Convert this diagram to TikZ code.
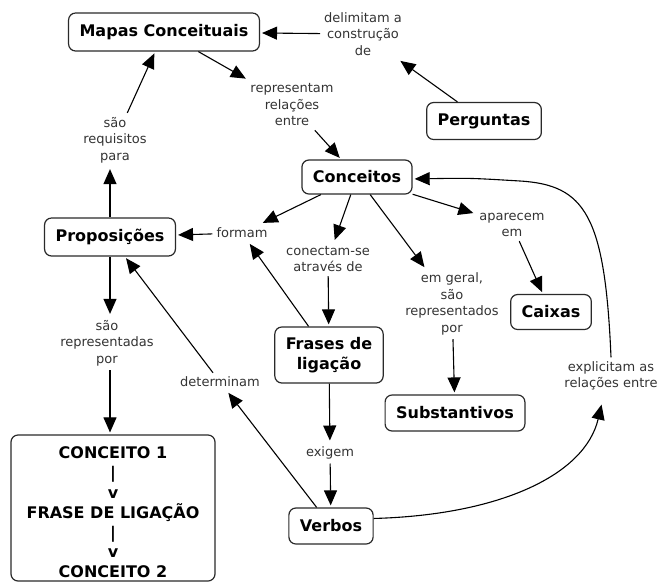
\documentclass[tikz,border=0pt]{standalone}
\usepackage{fontspec}
\setmainfont{DejaVu Sans}
\usetikzlibrary{arrows.meta,calc}
\definecolor{txtgray}{HTML}{333333}
\definecolor{linegray}{HTML}{2A2A2A}
\begin{document}
\begin{tikzpicture}[x=1pt,y=-1pt,
  concept/.style={draw=linegray, line width=1.2pt, rounded corners=7pt,
    font=\fontsize{16}{19.8}\selectfont\bfseries, inner xsep=11pt, inner ysep=2pt,
    minimum height=36pt, align=center, text=black},
  lbl/.style={font=\fontsize{13}{16.5}\selectfont, text=txtgray, align=center, inner sep=4pt},
  arr/.style={-{Triangle[length=15pt,width=13pt]}, line width=1.1pt, draw=black, shorten >=2pt}]
\useasboundingbox (0,0) rectangle (658,582);

% concept boxes
\node[concept, minimum height=38pt] (mapas) at (164,32) {Mapas Conceituais};
\node[concept, minimum height=37pt] (perg) at (484,121) {Perguntas};
\node[concept, minimum height=34pt] (conc) at (357,177) {Conceitos};
\node[concept, minimum height=38pt] (prop) at (110,237) {Proposições};
\node[concept, minimum height=35pt] (caixas) at (551,312) {Caixas};
\node[concept] (subst) at (455,413) {Substantivos};
\node[concept, minimum height=56pt] (frases) at (329,355) {Frases de\\ligação};
\node[concept] (verbos) at (331,526) {Verbos};
\node[concept, minimum width=204pt, minimum height=146pt] (esquema) at (113,508)
  {\rule{0pt}{20.7pt}CONCEITO 1\\|\\v\\FRASE DE LIGAÇÃO\\|\\v\\CONCEITO 2};

% linking phrases
\node[lbl] (deli) at (363,34) {delimitam a\\construção\\de};
\node[lbl] (repr) at (292,105) {representam\\relações\\entre};
\node[lbl] (saoreq) at (115,140) {são\\requisitos\\para};
\node[lbl] (saorep) at (107,343) {são\\representadas\\por};
\node[lbl] (formam) at (242,233) {formam};
\node[lbl] (conectam) at (328,259) {conectam-se\\através de};
\node[lbl] (emgeral) at (452,304) {em geral,\\são\\representados\\por};
\node[lbl] (aparecem) at (512,225) {aparecem\\em};
\node[lbl] (determ) at (220,382) {determinam};
\node[lbl] (exigem) at (330,453) {exigem};
\node[lbl] (expl) at (611,376) {explicitam as\\relações entre};

% connectors
\draw[arr] (deli) -- (mapas);
\draw[arr] (perg) -- (deli);
\draw[arr] (mapas) -- (repr);
\draw[arr] (repr) -- (conc);
\draw[arr] (conc) -- (formam);
\draw[arr] (formam) -- (prop);
\draw[arr] (frases) -- (formam);
\draw[arr] (conc) -- (conectam);
\draw[arr] (conectam) -- (frases);
\draw[arr] (conc) -- (emgeral);
\draw[arr] (emgeral) -- (subst);
\draw[arr] (conc) -- (aparecem);
\draw[arr] (aparecem) -- (caixas);
\draw[arr] (prop.north) -- (prop.north |- saoreq.south);
\draw[arr] (saoreq) -- (mapas);
\draw[arr] (prop.south) -- (prop.south |- saorep.north);
\draw[arr] (prop.south |- saorep.south) -- (prop.south |- esquema.north);
\draw[arr] (verbos) -- (determ);
\draw[arr] (determ) -- (prop);
\draw[arr] (frases) -- (exigem);
\draw[arr] (exigem) -- (verbos);
\draw[arr] (verbos.10) .. controls (500,515) and (585,475) .. ($(expl.south)+(-9,8)$);
\draw[arr] (expl.north) .. controls (605,215) and (585,185) .. (520,181) .. controls (470,178) .. (conc.-2);
\end{tikzpicture}
\end{document}
